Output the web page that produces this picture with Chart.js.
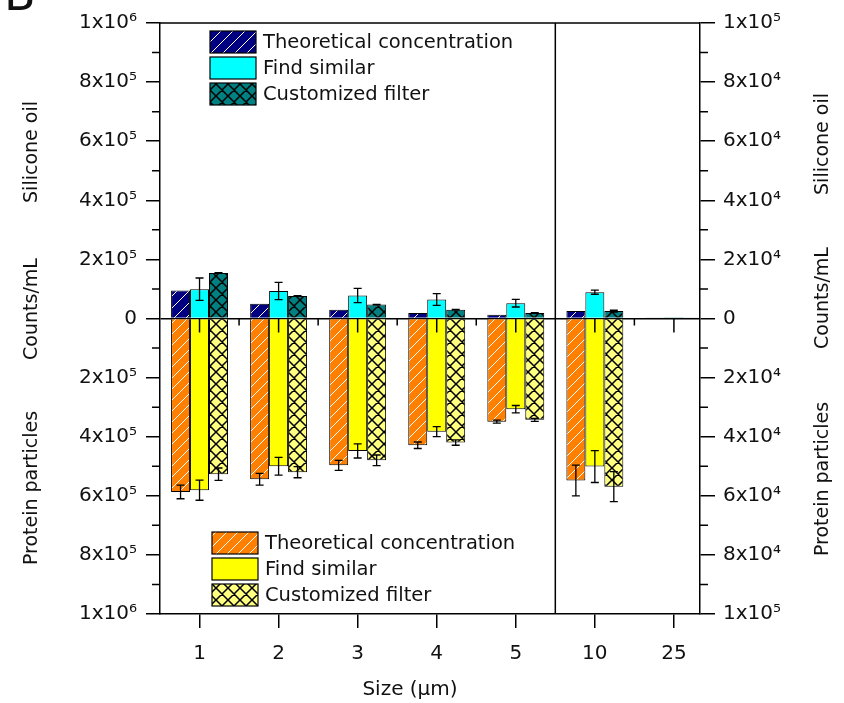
<!DOCTYPE html>
<html>
<head>
<meta charset="utf-8">
<script src="https://cdn.jsdelivr.net/npm/chart.js@4.4.1/dist/chart.umd.min.js"></script>
<style>
  html, body { margin: 0; padding: 0; background: #fff; }
</style>
</head>
<body>
<canvas id="chart" width="844" height="703"></canvas>
<script>
// sizes; from index rightFrom on, bars use the right axis (10x smaller scale)
const sizes = ['1', '2', '3', '4', '5', '10', '25']
const rightFrom = 5
const methods = ['Theoretical concentration', 'Find similar', 'Customized filter']

// silicone oil, counts/mL (drawn upwards)
const oilTheo = [95000, 50000, 30000, 19000, 12500, 2500, 200]
const oilFind = [99000, 93000, 78000, 64500, 52000, 8900, 400]
const oilCust = [154000, 76000, 47000, 30000, 19000, 2500, 300]
const oilTheoErr = [0, 0, 0, 0, 0, 0, 0]
const oilFindErr = [38000, 29000, 24000, 20000, 13000, 700, 0]
const oilCustErr = [1500, 1000, 1000, 1000, 800, 300, 0]

// protein particles, counts/mL (drawn downwards)
const protTheo = [587000, 544000, 497000, 429000, 349000, 54800, 0]
const protFind = [581000, 500000, 448000, 383000, 307000, 50100, 0]
const protCust = [527000, 520000, 480000, 420000, 343000, 56900, 0]
const protTheoErr = [23000, 20000, 17000, 11000, 5000, 5200, 0]
const protFindErr = [34000, 30000, 24000, 17000, 12500, 5400, 0]
const protCustErr = [21000, 19000, 18000, 9000, 5000, 5100, 0]

// tick labels, bottom to top
const leftTickLabels = ['1x10⁶', '8x10⁵', '6x10⁵', '4x10⁵', '2x10⁵', '0', '2x10⁵', '4x10⁵', '6x10⁵', '8x10⁵', '1x10⁶']
const rightTickLabels = ['1x10⁵', '8x10⁴', '6x10⁴', '4x10⁴', '2x10⁴', '0', '2x10⁴', '4x10⁴', '6x10⁴', '8x10⁴', '1x10⁵']

const FONT = 'DejaVu Sans'
Chart.defaults.font.family = FONT
Chart.defaults.color = '#111'

function pattern(bg, line, lw, cross, s) {
  let c = document.createElement('canvas')
  c.width = s; c.height = s
  let g = c.getContext('2d')
  g.fillStyle = bg
  g.fillRect(0, 0, s, s)
  g.strokeStyle = line
  g.lineWidth = lw
  g.beginPath()
  // "/" lines
  g.moveTo(-1, s + 1); g.lineTo(s + 1, -1)
  g.moveTo(-1, 1); g.lineTo(1, -1)
  g.moveTo(s - 1, s + 1); g.lineTo(s + 1, s - 1)
  if (cross) {
    g.moveTo(-1, -1); g.lineTo(s + 1, s + 1)
    g.moveTo(s - 1, -1); g.lineTo(s + 1, 1)
    g.moveTo(-1, s - 1); g.lineTo(1, s + 1)
  }
  g.stroke()
  return g.createPattern(c, 'repeat')
}

const fills = {
  oilTheo: pattern('#000080', '#ffffff', 1, false, 12),
  oilFind: '#00ffff',
  oilCust: pattern('#008080', '#000000', 1.5, true, 12),
  protTheo: pattern('#ff8000', '#ffffff', 1, false, 11),
  protFind: '#ffff00',
  protCust: pattern('#ffff80', '#000000', 1.5, true, 12)
}

const series = [
  { label: methods[0], stack: 'a', sign: 1, vals: oilTheo, errs: oilTheoErr, fill: fills.oilTheo },
  { label: methods[1], stack: 'b', sign: 1, vals: oilFind, errs: oilFindErr, fill: fills.oilFind },
  { label: methods[2], stack: 'c', sign: 1, vals: oilCust, errs: oilCustErr, fill: fills.oilCust },
  { label: methods[0], stack: 'a', sign: -1, vals: protTheo, errs: protTheoErr, fill: fills.protTheo },
  { label: methods[1], stack: 'b', sign: -1, vals: protFind, errs: protFindErr, fill: fills.protFind },
  { label: methods[2], stack: 'c', sign: -1, vals: protCust, errs: protCustErr, fill: fills.protCust }
]

let datasets = []
for (let s of series) {
  for (let side of [['y', 0, rightFrom], ['y2', rightFrom, sizes.length]]) {
    let idx = []
    for (let i = side[1]; i < side[2]; i++) idx.push(i)
    datasets.push({
      label: s.label,
      stack: s.stack,
      yAxisID: side[0],
      data: idx.map(i => ({ x: i + 1, y: s.sign * s.vals[i] })),
      errors: idx.map(i => s.errs[i]),
      backgroundColor: s.fill,
      borderColor: '#000',
      borderWidth: 1
    })
  }
}

const errorBars = {
  id: 'errorBars',
  afterDatasetsDraw(chart) {
    let g = chart.ctx
    g.save()
    g.strokeStyle = '#000'
    g.lineWidth = 1.3
    chart.data.datasets.forEach((ds, di) => {
      let meta = chart.getDatasetMeta(di)
      let sc = chart.scales[ds.yAxisID]
      meta.data.forEach((bar, j) => {
        let e = ds.errors[j]
        if (!e) return
        let v = ds.data[j].y
        let y1 = sc.getPixelForValue(v - e)
        let y2 = sc.getPixelForValue(v + e)
        g.beginPath()
        g.moveTo(bar.x, y1); g.lineTo(bar.x, y2)
        g.moveTo(bar.x - 4, y1); g.lineTo(bar.x + 4, y1)
        g.moveTo(bar.x - 4, y2); g.lineTo(bar.x + 4, y2)
        g.stroke()
      })
    })
    g.restore()
  }
}

const frame = {
  id: 'frame',
  afterDraw(chart) {
    let g = chart.ctx
    let a = chart.chartArea
    let x = chart.scales.x, y = chart.scales.y, y2 = chart.scales.y2
    g.save()
    g.strokeStyle = '#000'
    g.lineWidth = 1.5
    g.beginPath()
    // top frame and divider between the two scales
    g.moveTo(a.left, a.top); g.lineTo(a.right, a.top)
    let xd = x.getPixelForValue(rightFrom + 0.5)
    g.moveTo(xd, a.top); g.lineTo(xd, a.bottom)
    // minor ticks on both y axes
    for (let v = y.min; v <= y.max + 1; v += 100000) {
      if (Math.round(v / 100000) % 2 === 0) continue
      let p = y.getPixelForValue(v)
      g.moveTo(a.left - 8, p); g.lineTo(a.left, p)
      let p2 = y2.getPixelForValue(v / 10)
      g.moveTo(a.right, p2); g.lineTo(a.right + 8, p2)
    }
    // ticks on the zero line
    let y0 = y.getPixelForValue(0)
    for (let i = 1; i <= sizes.length; i++) {
      let px = x.getPixelForValue(i)
      g.moveTo(px, y0); g.lineTo(px, y0 + 14)
      if (i < sizes.length && i !== rightFrom) {
        let ph = x.getPixelForValue(i + 0.5)
        g.moveTo(ph, y0); g.lineTo(ph, y0 + 7)
      }
    }
    g.stroke()

    // axis titles
    g.fillStyle = '#111'
    g.font = '19px "' + FONT + '"'
    g.textAlign = 'center'
    g.textBaseline = 'middle'
    let vtext = (t, px, py) => {
      g.save(); g.translate(px, py); g.rotate(-Math.PI / 2); g.fillText(t, 0, 0); g.restore()
    }
    vtext('Silicone oil', 32, 152)
    vtext('Counts/mL', 32, 309)
    vtext('Protein particles', 32, 488)
    vtext('Silicone oil', 823, 144)
    vtext('Counts/mL', 823, 298)
    vtext('Protein particles', 823, 479)
    g.font = '20px "' + FONT + '"'
    g.fillText('Size (µm)', 410, 690)

    // panel letter
    g.textAlign = 'left'
    g.textBaseline = 'alphabetic'
    g.font = '46px "' + FONT + '"'
    g.fillText('B', 4, 10)

    // legends
    let legend = (items, lx, ly) => {
      g.font = '19.5px "' + FONT + '"'
      g.textBaseline = 'middle'
      items.forEach((it, k) => {
        let by = ly + k * 26
        g.fillStyle = it.fill
        g.fillRect(lx, by, 46, 22)
        g.lineWidth = 1.2
        g.strokeRect(lx, by, 46, 22)
        g.fillStyle = '#111'
        g.fillText(it.label, lx + 53, by + 12)
      })
    }
    legend(series.slice(0, 3), 210, 31)
    legend(series.slice(3, 6), 212, 532)
    g.restore()
  }
}

new Chart(document.getElementById('chart'), {
  type: 'bar',
  data: { datasets: datasets },
  plugins: [errorBars, frame],
  options: {
    responsive: false,
    animation: false,
    devicePixelRatio: 1,
    layout: { padding: { top: 23, left: 0, right: 0, bottom: 0 } },
    plugins: { legend: { display: false }, tooltip: { enabled: false } },
    datasets: { bar: { barPercentage: 1, categoryPercentage: 0.72 } },
    scales: {
      x: {
        type: 'linear',
        min: 0.5,
        max: 7.33,
        stacked: true,
        offset: false,
        ticks: {
          stepSize: 1,
          includeBounds: false,
          autoSkip: false,
          maxRotation: 0,
          padding: 14,
          font: { size: 20 },
          callback: v => sizes[v - 1]
        },
        grid: { offset: false, drawOnChartArea: false, tickLength: 14, color: '#000', lineWidth: 1.5 },
        border: { color: '#000', width: 1.5 },
        afterFit: s => { s.height = 89 }
      },
      y: {
        position: 'left',
        min: -1000000,
        max: 1000000,
        stacked: true,
        ticks: {
          stepSize: 200000,
          padding: 9,
          font: { size: 20 },
          callback: (v, i) => leftTickLabels[i]
        },
        grid: {
          color: c => c.tick && c.tick.value === 0 ? '#000' : 'rgba(0,0,0,0)',
          tickColor: '#000',
          tickLength: 14,
          lineWidth: 1.5
        },
        border: { color: '#000', width: 1.5 },
        afterFit: s => { s.width = 160 }
      },
      y2: {
        position: 'right',
        min: -100000,
        max: 100000,
        stacked: true,
        ticks: {
          stepSize: 20000,
          padding: 8,
          font: { size: 20 },
          callback: (v, i) => rightTickLabels[i]
        },
        grid: { drawOnChartArea: false, tickColor: '#000', tickLength: 15, lineWidth: 1.5 },
        border: { color: '#000', width: 1.5 },
        afterFit: s => { s.width = 144 }
      }
    }
  }
})
</script>
</body>
</html>
